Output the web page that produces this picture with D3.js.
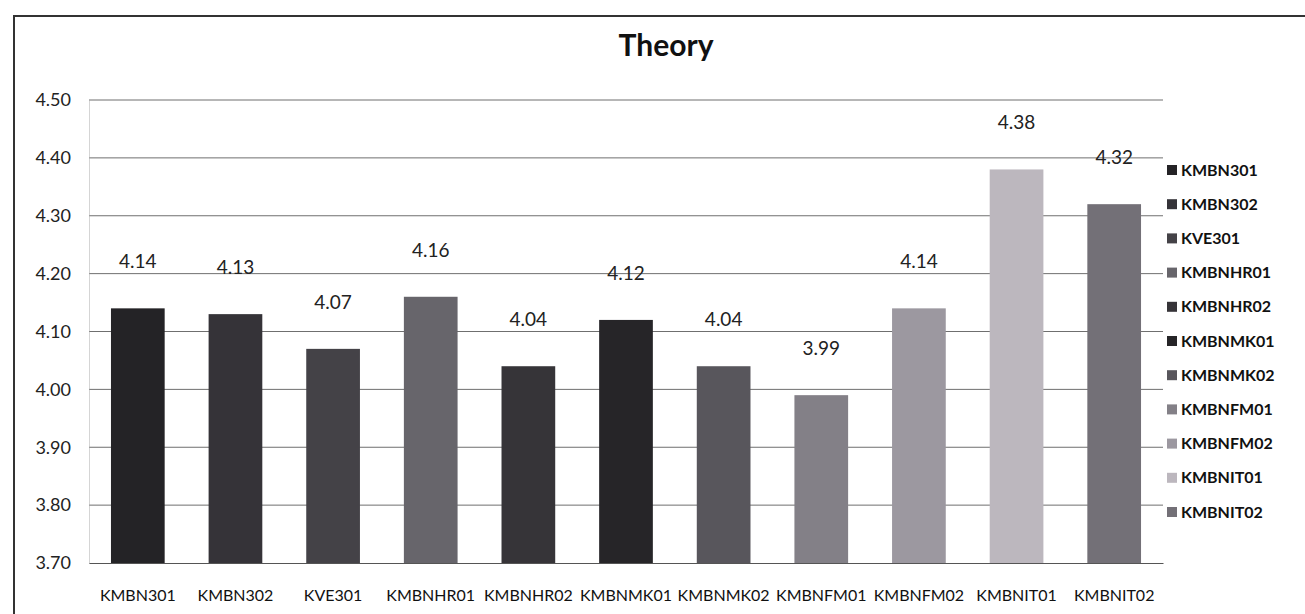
<!DOCTYPE html>
<html>
<head>
<meta charset="utf-8">
<script src="https://cdn.jsdelivr.net/npm/d3@7"></script>
<style>
  body { margin: 0; background: #fff; }
  #chart { width: 1305px; height: 614px; }
  text { font-family: Lato, "Open Sans", sans-serif; }
</style>
</head>
<body>
<div id="chart"></div>
<script>
// chart data
const categories = ["KMBN301", "KMBN302", "KVE301", "KMBNHR01", "KMBNHR02", "KMBNMK01",
    "KMBNMK02", "KMBNFM01", "KMBNFM02", "KMBNIT01", "KMBNIT02"];
const values = [4.14, 4.13, 4.07, 4.16, 4.04, 4.12, 4.04, 3.99, 4.14, 4.38, 4.32];
const yTicks = [3.70, 3.80, 3.90, 4.00, 4.10, 4.20, 4.30, 4.40, 4.50];
const colors = ["#242326", "#353338", "#444247", "#67656b", "#363438", "#262528",
    "#58565c", "#838087", "#9c98a0", "#bcb7be", "#737077"];
const title = "Theory";

const margin = {top: 100, right: 142, bottom: 51, left: 89};
const W = 1305, H = 614;
const width = W - margin.left - margin.right;
const height = H - margin.top - margin.bottom;

const svg = d3.select("#chart").append("svg")
    .attr("width", W)
    .attr("height", H);

// outer chart border
svg.append("rect")
    .attr("x", 14).attr("y", 16)
    .attr("width", W + 20).attr("height", H + 20)
    .attr("fill", "none")
    .attr("stroke", "#333")
    .attr("stroke-width", 2);

svg.append("text")
    .attr("x", 666).attr("y", 56)
    .attr("text-anchor", "middle")
    .style("font-size", "30px")
    .style("font-weight", "bold")
    .attr("fill", "#111")
    .text(title);

const g = svg.append("g")
    .attr("transform", "translate(" + margin.left + "," + margin.top + ")");

const x = d3.scaleBand()
    .domain(categories)
    .range([0, width])
    .paddingInner(0.45)
    .paddingOuter(0.225);

const y = d3.scaleLinear()
    .domain([3.70, 4.50])
    .range([height, 0]);

// gridlines
g.append("g")
    .selectAll("line")
    .data(yTicks.slice(1))
    .enter().append("line")
    .attr("x1", 0).attr("x2", width)
    .attr("y1", d => y(d)).attr("y2", d => y(d))
    .attr("stroke", "#6f6f6f")
    .attr("stroke-width", 1);

// y axis
const yAxis = g.append("g")
    .call(d3.axisLeft(y).tickValues(yTicks).tickFormat(d3.format(".2f")).tickSize(0).tickPadding(18));
yAxis.select(".domain").attr("stroke", "#aaa").attr("stroke-dasharray", "1,1");
yAxis.selectAll("text")
    .style("font-size", "18px")
    .attr("fill", "#222");

// bars
g.append("g")
    .selectAll("rect")
    .data(values)
    .enter().append("rect")
    .attr("x", (d, i) => x(categories[i]))
    .attr("y", d => y(d))
    .attr("width", x.bandwidth())
    .attr("height", d => height - y(d))
    .attr("fill", (d, i) => colors[i]);

// data labels
g.append("g")
    .selectAll("text")
    .data(values)
    .enter().append("text")
    .attr("x", (d, i) => x(categories[i]) + x.bandwidth() / 2)
    .attr("y", d => y(d) - 40)
    .attr("text-anchor", "middle")
    .style("font-size", "19px")
    .attr("fill", "#222")
    .text(d => d.toFixed(2));

// x axis
const xAxis = g.append("g")
    .attr("transform", "translate(0," + height + ")")
    .call(d3.axisBottom(x).tickSize(0).tickPadding(27));
xAxis.select(".domain").attr("stroke", "#555");
xAxis.selectAll("text")
    .style("font-size", "16px")
    .attr("fill", "#111");

// legend
const legend = svg.append("g")
    .attr("transform", "translate(1167,170)");
const item = legend.selectAll("g")
    .data(categories)
    .enter().append("g")
    .attr("transform", (d, i) => "translate(0," + i * 34.2 + ")");
item.append("rect")
    .attr("x", 0).attr("y", -5)
    .attr("width", 10).attr("height", 10)
    .attr("fill", (d, i) => colors[i]);
item.append("text")
    .attr("x", 14).attr("y", 0)
    .attr("dy", "0.35em")
    .style("font-size", "16px")
    .style("font-weight", "bold")
    .attr("fill", "#111")
    .text(d => d);
</script>
</body>
</html>
